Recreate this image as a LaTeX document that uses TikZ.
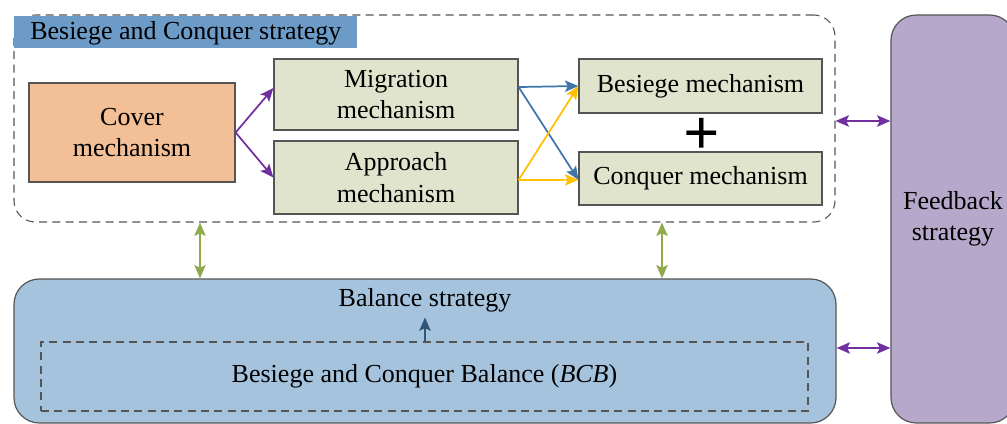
\documentclass[tikz,border=0pt]{standalone}
\usepackage{fontspec}
\setmainfont{Liberation Serif}
\usetikzlibrary{arrows.meta,calc}
\definecolor{titleblue}{RGB}{108,155,200}
\definecolor{coverfill}{RGB}{242,191,150}
\definecolor{mechfill}{RGB}{224,228,204}
\definecolor{balfill}{RGB}{166,195,222}
\definecolor{fbfill}{RGB}{181,168,203}
\definecolor{purp}{RGB}{112,48,160}
\definecolor{barrow}{RGB}{62,117,170}
\definecolor{yarrow}{RGB}{255,192,0}
\definecolor{garrow}{RGB}{143,170,76}
\definecolor{darrow}{RGB}{47,85,120}
\definecolor{edge}{RGB}{85,85,85}
\tikzset{
  txt/.style={font=\fontsize{19.5}{23.5}\selectfont, align=center, inner sep=0pt},
  mech/.style={txt, draw=edge, line width=0.9pt, fill=mechfill},
  dashbox/.style={draw=edge, line width=0.8pt, dash pattern=on 6pt off 4pt},
  tip/.style={-{Stealth[length=10pt,width=8.5pt,inset=2pt]}},
  dtip/.style={{Stealth[length=10pt,width=8.5pt,inset=2pt]}-{Stealth[length=10pt,width=8.5pt,inset=2pt]}},
  arr/.style={line width=1.3pt},
}
\begin{document}
\begin{tikzpicture}[x=0.75pt,y=-0.75pt]
\useasboundingbox (0,0) rectangle (1007,424);
% outer dashed group
\node[dashbox, rounded corners=16pt, minimum width=615.75pt, minimum height=155.25pt, inner sep=0pt] (outer) at (424.5,118.5) {};
% title band
\node[fill=titleblue, anchor=north west, minimum width=257.25pt, minimum height=24pt, inner sep=0pt] (title) at (14,16) {};
\node[txt, anchor=west] (titlet) at (30,33) {Besiege and Conquer strategy};
% mechanisms
\node[txt, draw=edge, line width=0.9pt, fill=coverfill, minimum width=154.5pt, minimum height=74.25pt] (cover) at (132,132.5) {Cover\\mechanism};
\node[mech, minimum width=183pt, minimum height=53.25pt] (mig) at (396,94.5) {Migration\\mechanism};
\node[mech, minimum width=183pt, minimum height=54.75pt] (app) at (396,177.5) {Approach\\mechanism};
\node[mech, minimum width=182.25pt, minimum height=40.5pt] (bes) at (700.5,86) {Besiege mechanism};
\node[mech, minimum width=182.25pt, minimum height=39.75pt] (con) at (700.5,178.5) {Conquer mechanism};
\node[inner sep=0pt, font=\fontsize{48}{48}\bfseries\selectfont] (plus) at (701.5,136) {+};
% balance
\node[draw=edge, line width=0.9pt, fill=balfill, rounded corners=19pt, minimum width=616.5pt, minimum height=108pt, inner sep=0pt] (bal) at (425,351) {};
\node[txt] (balt) at (425,300) {Balance strategy};
\node[txt, dashbox, minimum width=575.25pt, minimum height=51.75pt] (bcb) at (424.5,376.5) {Besiege and Conquer Balance (\textit{BCB})};
% feedback
\begin{scope}
\clip (0,0) rectangle (1007,424);
\node[txt, draw=edge, line width=0.9pt, fill=fbfill, rounded corners=19pt, minimum width=93pt, minimum height=306pt] (fb) at (953,219) {Feedback\\strategy};
\end{scope}
% arrows
\draw[tip, purp, arr] (cover.east) -- ([yshift=4.9pt]mig.west);
\draw[tip, purp, arr] (cover.east) -- (app.west);
\draw[tip, barrow, arr] ([yshift=5.6pt]mig.east) -- (bes.west);
\draw[tip, barrow, arr] ([yshift=5.6pt]mig.east) -- ([yshift=-1pt]con.west);
\draw[tip, yarrow, arr] ([yshift=-1.9pt]app.east) -- (bes.west);
\draw[tip, yarrow, arr] ([yshift=-1.9pt]app.east) -- ([yshift=-1pt]con.west);
\coordinate (g1) at (200,250);
\coordinate (g2) at (662,250);
\draw[dtip, garrow, arr] (outer.south -| g1) -- (bal.north -| g1);
\draw[dtip, garrow, arr] (outer.south -| g2) -- (bal.north -| g2);
\coordinate (f1) at (860,121);
\coordinate (f2) at (860,348);
\draw[dtip, purp, arr] (outer.east |- f1) -- (fb.west |- f1);
\draw[dtip, purp, arr] (bal.east |- f2) -- (fb.west |- f2);
\draw[tip, darrow, arr] (bcb.north -| balt) -- ([yshift=-4pt]balt.south);
\end{tikzpicture}
\end{document}
